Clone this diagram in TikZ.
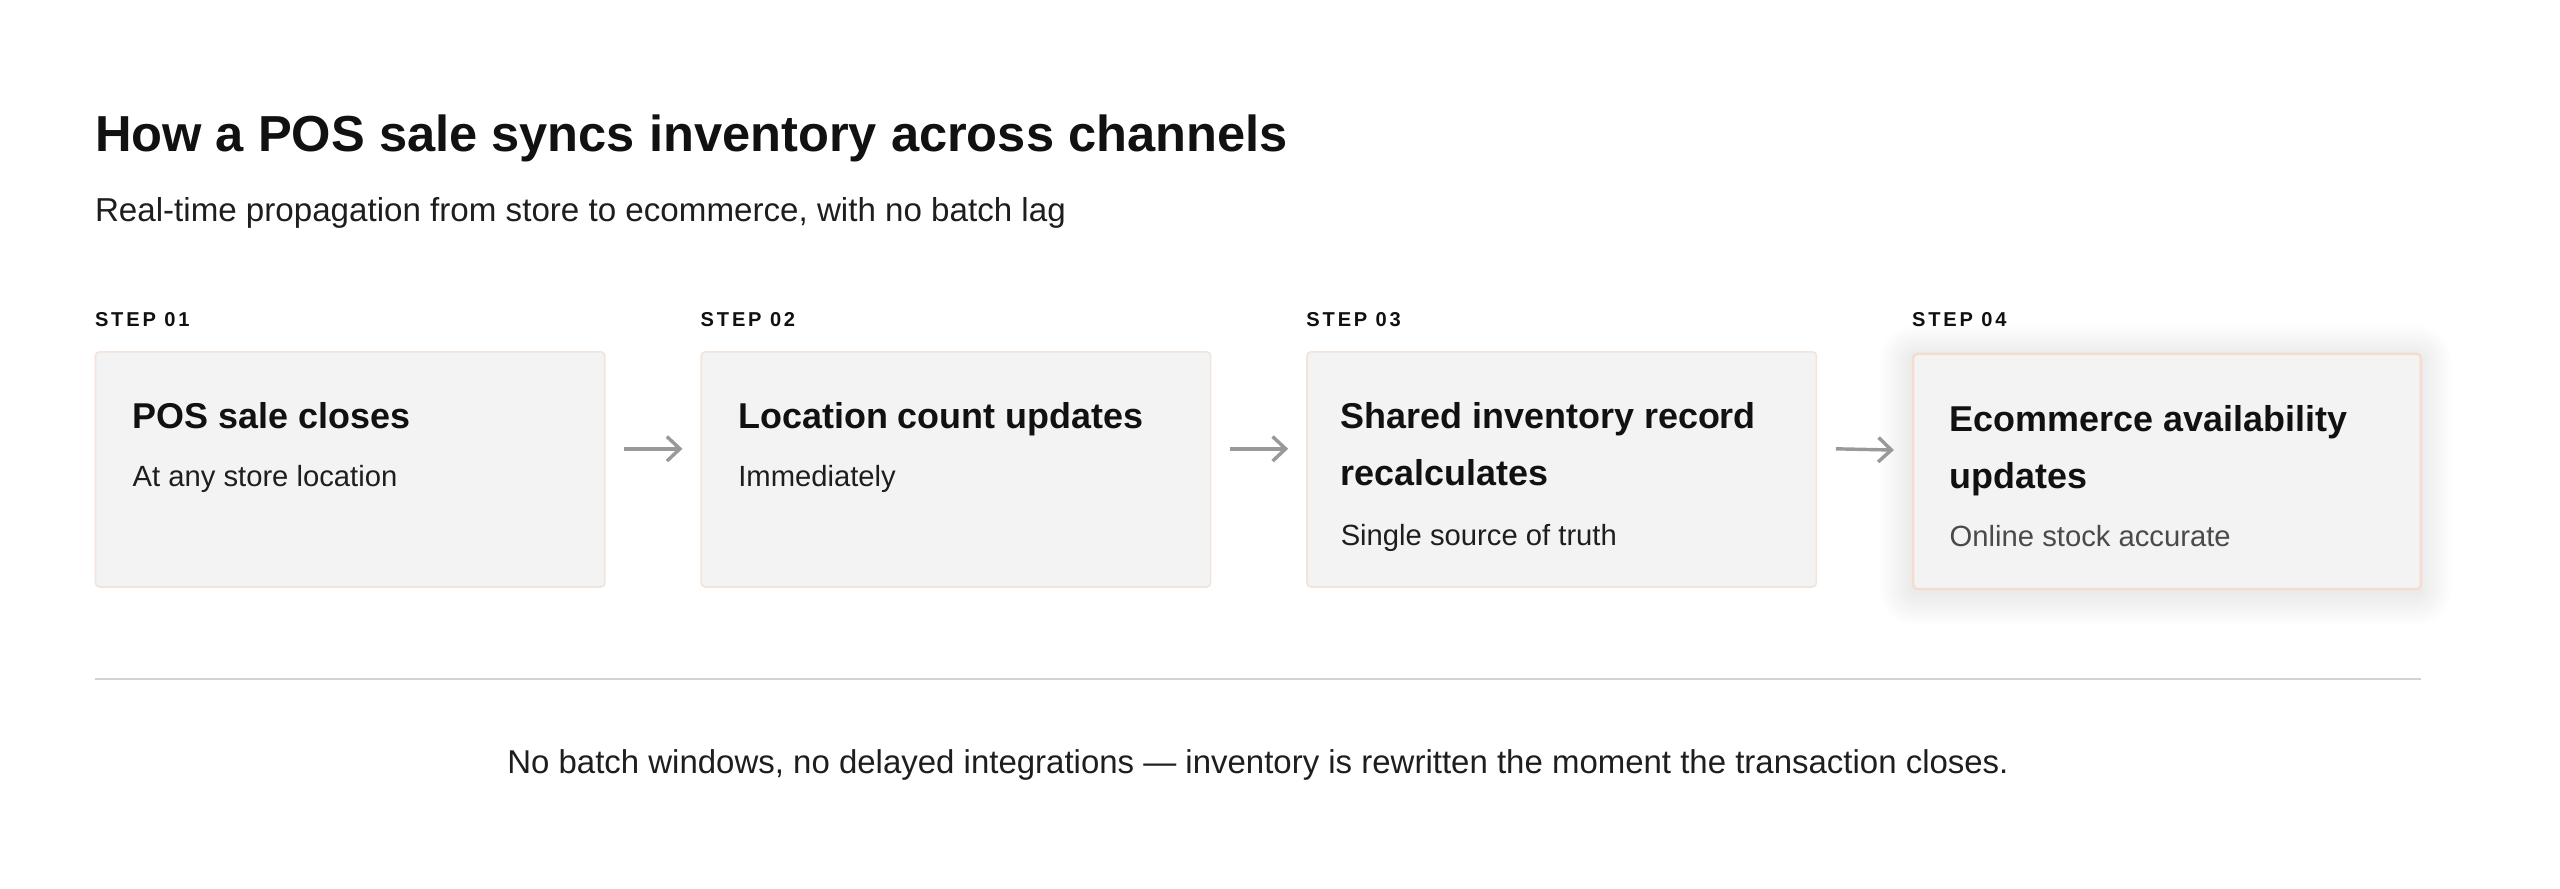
\documentclass[tikz,border=0pt]{standalone}
\usepackage{fontspec}
\setmainfont{Liberation Sans}
\usetikzlibrary{arrows.meta}
\definecolor{boxfill}{HTML}{F3F3F3}
\definecolor{boxline}{HTML}{F2E4DB}
\definecolor{hiline}{HTML}{F4DCCF}
\definecolor{glow}{HTML}{B5CDD2}
\definecolor{arrowgray}{HTML}{999999}
\definecolor{rulegray}{HTML}{D2D2D2}
\definecolor{ink}{HTML}{111111}
\definecolor{subink}{HTML}{1E1E1E}
\definecolor{softink}{HTML}{4A4A4A}
\begin{document}
\begin{tikzpicture}[x=1pt,y=-1pt,
  stepbox/.style={draw=boxline, line width=1pt, fill=boxfill, rounded corners=2.5pt,
    minimum width=312pt, minimum height=144pt, anchor=north west, inner sep=0},
  hilitebox/.style={stepbox, draw=hiline, line width=1.5pt, minimum width=311pt},
  steplabel/.style={anchor=base west, inner sep=0, text=ink,
    font=\bfseries\fontsize{12.3}{14}\selectfont\addfontfeatures{LetterSpace=14}},
  boxtitle/.style={anchor=base west, inner sep=0, text=ink, font=\bfseries\fontsize{22}{26}\selectfont},
  boxsub/.style={anchor=base west, inner sep=0, text=subink, font=\fontsize{17.9}{22}\selectfont},
  flow/.style={draw=arrowgray, line width=2.1pt, -{Straight Barb[length=8pt,width=15pt,line width=2.1pt]}},
]
\useasboundingbox[fill=white] (0,0) rectangle (1568,544);

% heading
\node[anchor=base west, inner sep=0, text=ink, font=\bfseries\fontsize{31}{36}\selectfont] (title) at (58,92.5)
  {How a POS sale syncs inventory across channels};
\node[anchor=base west, inner sep=0, text=subink, font=\fontsize{20.3}{24}\selectfont] (subtitle) at (58,135.5)
  {Real-time propagation from store to ecommerce, with no batch lag};

% step labels
\node[steplabel] (l1) at (58,200) {STEP 01};
\node[steplabel] (l2) at (429,200) {STEP 02};
\node[steplabel] (l3) at (800,200) {STEP 03};
\node[steplabel] (l4) at (1171,200) {STEP 04};

% soft glow behind the last box
\foreach \i in {1,...,20} {
  \fill[glow, opacity=0.006, rounded corners={2.5pt+\i pt}]
    (1171-\i,219-\i) rectangle (1482+\i,363+\i);
}

% boxes
\node[stepbox] (b1) at (58,215) {};
\node[stepbox] (b2) at (429,215) {};
\node[stepbox] (b3) at (800,215) {};
\node[hilitebox] (b4) at (1171,216) {};

% box texts
\node[boxtitle] (t1) at (81,262.5) {POS sale closes};
\node[boxsub] (s1) at (81,298) {At any store location};

\node[boxtitle] (t2) at (452,262.5) {Location count updates};
\node[boxsub] (s2) at (452,298) {Immediately};

\node[boxtitle] (t3a) at (821,262.5) {Shared inventory record};
\node[boxtitle] (t3b) at (821,297.5) {recalculates};
\node[boxsub] (s3) at (821,334) {Single source of truth};

\node[boxtitle] (t4a) at (1194,264.5) {Ecommerce availability};
\node[boxtitle] (t4b) at (1194,299) {updates};
\node[boxsub, text=softink] (s4) at (1194,335) {Online stock accurate};

% arrows
\draw[flow] ([xshift=11.5pt,yshift=12.6pt]b1.east) -- ([xshift=-11pt,yshift=12.6pt]b2.west);
\draw[flow] ([xshift=11.5pt,yshift=12.6pt]b2.east) -- ([xshift=-11pt,yshift=12.6pt]b3.west);
\draw[flow] ([xshift=11.5pt,yshift=12.6pt]b3.east) -- ([xshift=-11pt,yshift=13.1pt]b4.west);

% rule and footer
\coordinate (r1) at (58,416);
\coordinate (r2) at (1483,416);
\draw[rulegray, line width=1.3pt] (r1) -- (r2);
\node[anchor=base, inner sep=0, text=subink, font=\fontsize{20.2}{24}\selectfont] (foot) at (770.5,473.5)
  {No batch windows, no delayed integrations — inventory is rewritten the moment the transaction closes.};
\end{tikzpicture}
\end{document}
